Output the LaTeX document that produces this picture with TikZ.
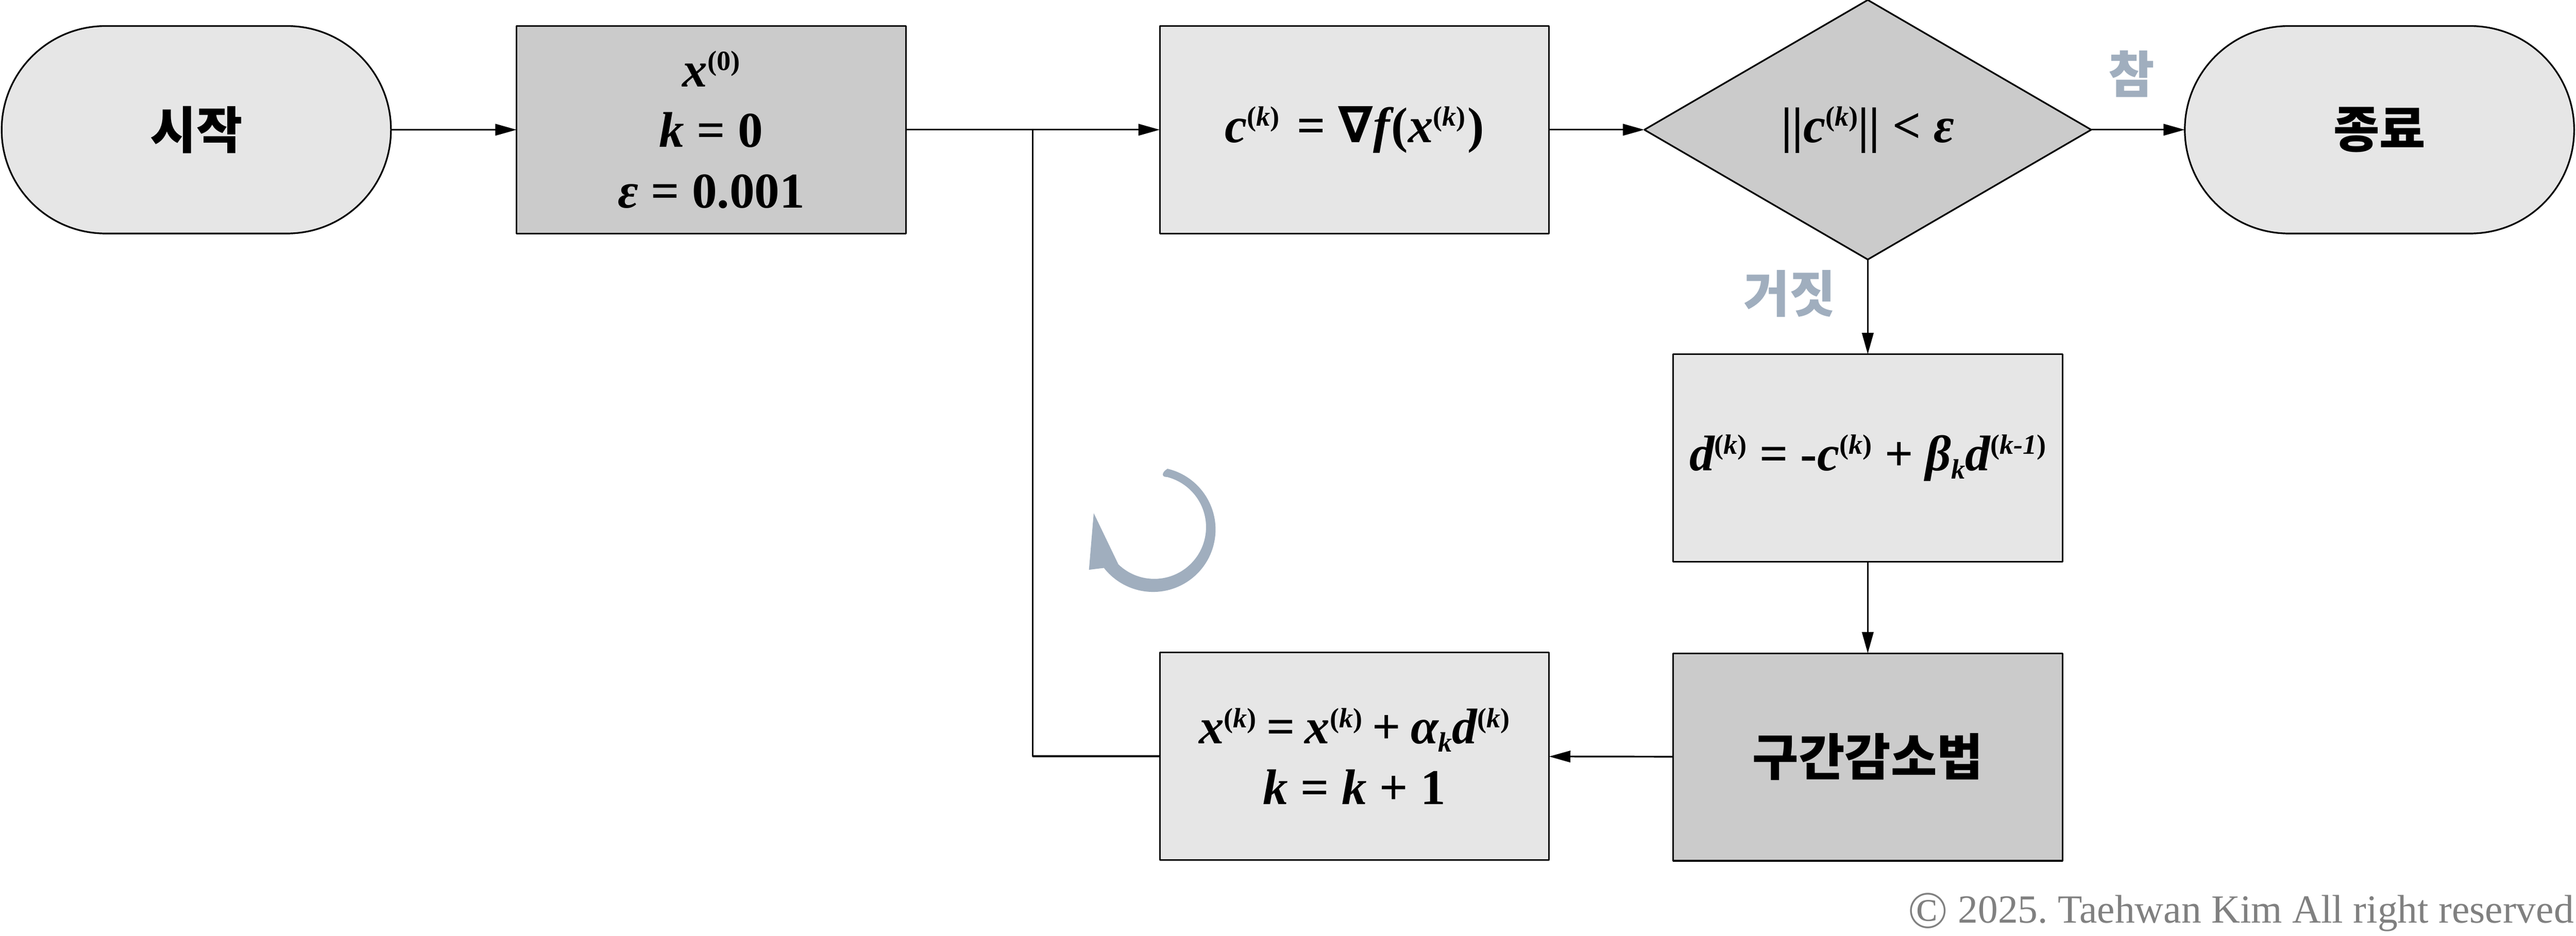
\documentclass[tikz,border=0pt]{standalone}
\usepackage{fontspec}
\setmainfont{Liberation Serif}
\newfontfamily\kofont{Noto Sans CJK KR}
\newfontfamily\nablafont{DejaVu Sans}
\usetikzlibrary{arrows.meta,shapes.geometric,shapes.misc}
\definecolor{lightfill}{HTML}{E6E6E6}
\definecolor{darkfill}{HTML}{CBCBCB}
\definecolor{slate}{HTML}{A0AEBE}
\definecolor{notegray}{HTML}{808080}
\newcommand{\kp}[1]{\raisebox{10bp}{\fontsize{17bp}{17bp}\selectfont\upshape(\itshape #1\upshape)}}
\newcommand{\kb}{\raisebox{-5bp}{\fontsize{17bp}{17bp}\selectfont\itshape k}}
\newcommand{\vr}[1]{{\itshape #1}}
\tikzset{
  mathtext/.style={font={\fontsize{30.5bp}{36.9bp}\selectfont\bfseries},align=center,inner sep=0pt,outer sep=0pt},
  kotext/.style={font={\fontsize{30.5bp}{37bp}\selectfont\kofont\bfseries},inner sep=0pt,outer sep=0pt},
  lightbox/.style={draw,fill=lightfill,minimum width=237bp,minimum height=126.3bp},
  darkbox/.style={draw,fill=darkfill,minimum width=237bp,minimum height=126.3bp},
  terminal/.style={draw,fill=lightfill,rounded rectangle,minimum width=237bp,minimum height=126.3bp},
  decision/.style={draw,fill=darkfill,diamond,minimum width=272bp,minimum height=158bp},
  branch/.style={kotext,text=slate},
}
\begin{document}
\begin{tikzpicture}[>={Triangle[length=13bp,width=7bp]},line join=bevel,line width=1bp]
  \useasboundingbox (0bp,0bp) rectangle (1568.14bp,569.6bp);
  % Node: start
  \node (start) at (119.5bp,490.6bp) [terminal,kotext] {시작};
  % Node: init
  \node (init) at (433bp,490.6bp) [darkbox,mathtext] {\vr{x}\kp{\upshape 0}\\ \vr{k} = 0\\ \vr{ε} = 0.001};
  % Node: grad
  \node (grad) at (824.5bp,490.6bp) [lightbox,mathtext] {\vr{c}\kp{k}\hspace{3bp} = {\nablafont ∇}\vr{f}\hspace{1bp}(\vr{x}\kp{k}\hspace{1bp})};
  % Node: test
  \node (test) at (1137bp,490.6bp) [decision,mathtext] {||\vr{c}\kp{k}|| < \vr{ε}};
  % Node: finish
  \node (finish) at (1448.5bp,490.6bp) [terminal,kotext] {종료};
  % Node: dir
  \node (dir) at (1137bp,290.8bp) [lightbox,mathtext] {\vr{d}\kp{k} = -\vr{c}\kp{k} + \vr{β}\kb\vr{d}\kp{k-\itshape 1}};
  % Node: search
  \node (search) at (1137bp,108.7bp) [darkbox,kotext] {구간감소법};
  % Node: update
  \node (update) at (824.5bp,109.2bp) [lightbox,mathtext] {\spaceskip=6bp\relax\vr{x}\kp{k} = \vr{x}\kp{k} + \vr{α}\kb\vr{d}\kp{k}\\ \vr{k} = \vr{k} + 1};
  % Node: labels
  \node (yes) at (1297.6bp,524.5bp) [branch] {참};
  \node (no) at (1089.5bp,390.8bp) [branch] {거짓};
  \node (note) at (1567.3bp,7.7bp) [anchor=base east,inner sep=0pt,text=notegray,font={\fontsize{24.3bp}{28bp}\selectfont}] {\raisebox{-3bp}{\fontsize{32bp}{32bp}\selectfont ©} 2025.\ Taehwan Kim All right reserved};
  \coordinate (merge) at (628.6bp,490.6bp);
  % Edge: start -> init
  \draw [->] (start) -- (init);
  % Edge: init -> grad
  \draw [->] (init) -- (grad);
  % Edge: grad -> test
  \draw [->] (grad) -- (test);
  % Edge: test -> finish
  \draw [->] (test) -- (finish);
  % Edge: test -> dir
  \draw [->] (test) -- (dir);
  % Edge: dir -> search
  \draw [->] (dir) -- (search);
  % Edge: search -> update
  \draw [->] (search) -- (update);
  % Edge: update -> merge
  \draw (update) -| (merge);
  % loop mark
  \fill [slate] (710.7bp,284.2bp) arc [start angle=76.7,end angle=-142,radius=38bp]
    -- (662.9bp,222.7bp) -- (665.8bp,257.2bp) -- (680.8bp,226bp)
    arc [start angle=-134,end angle=76,radius=31.5bp]
    .. controls (707bp,279bp) and (707bp,282bp) .. cycle;
\end{tikzpicture}
\end{document}
